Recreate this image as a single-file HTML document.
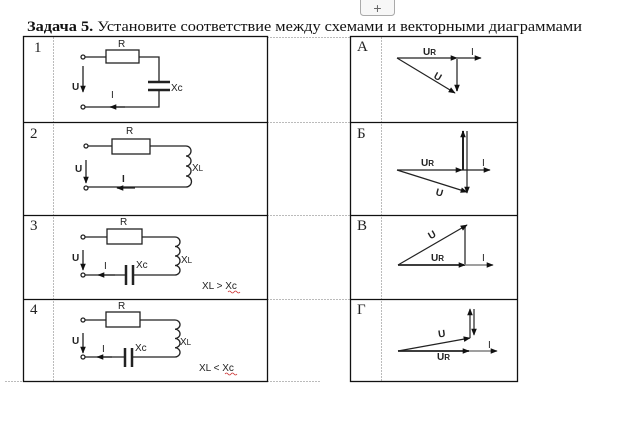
<!DOCTYPE html>
<html><head><meta charset="utf-8"><style>
html,body{margin:0;padding:0;background:#fff;width:631px;height:422px;overflow:hidden}
svg{display:block}
.s{font-family:"Liberation Sans",sans-serif;font-size:10px;fill:#222}
.n{font-family:"Liberation Serif",serif;font-size:15px;fill:#222}
</style></head><body>
<svg width="631" height="422" viewBox="0 0 631 422" xmlns="http://www.w3.org/2000/svg">
<defs>
<marker id="a" viewBox="0 0 10 10" refX="9" refY="5" markerWidth="8" markerHeight="7" markerUnits="userSpaceOnUse" orient="auto"><path d="M0,1 L10,5 L0,9 z" fill="#111"/></marker>
</defs>
<rect x="360.5" y="-3.5" width="34" height="19" rx="3" fill="#f7f7f7" stroke="#aaa"/>
<text x="377.5" y="13" text-anchor="middle" font-family="Liberation Sans" font-size="14" fill="#666">+</text>
<text x="27" y="31" font-family="Liberation Serif,serif" font-size="15" fill="#111" textLength="555" lengthAdjust="spacingAndGlyphs"><tspan font-weight="bold">Задача 5.</tspan> Установите соответствие между  схемами и векторными диаграммами</text>
<g stroke="#bbb" stroke-dasharray="2,1" stroke-width="1">
<line x1="267" y1="37.5" x2="350" y2="37.5"/>
<line x1="267" y1="122.5" x2="350" y2="122.5"/>
<line x1="267" y1="215.5" x2="350" y2="215.5"/>
<line x1="267" y1="299.5" x2="350" y2="299.5"/>
<line x1="267" y1="381.5" x2="320" y2="381.5"/>
<line x1="5" y1="381.5" x2="23" y2="381.5"/>
<line x1="53.5" y1="37" x2="53.5" y2="381"/>
<line x1="381.5" y1="37" x2="381.5" y2="381"/>
</g>
<g fill="none" stroke="#111" stroke-width="1.3">
<rect x="23.5" y="36.5" width="244" height="345"/>
<line x1="23" y1="122.5" x2="267" y2="122.5"/>
<line x1="23" y1="215.5" x2="267" y2="215.5"/>
<line x1="23" y1="299.5" x2="267" y2="299.5"/>
<rect x="350.5" y="36.5" width="167" height="345"/>
<line x1="350" y1="122.5" x2="517" y2="122.5"/>
<line x1="350" y1="215.5" x2="517" y2="215.5"/>
<line x1="350" y1="299.5" x2="517" y2="299.5"/>
</g>
<text class="n" x="34" y="52">1</text><text class="n" x="30" y="138">2</text><text class="n" x="30" y="230">3</text><text class="n" x="30" y="314">4</text>
<text class="n" x="357" y="51">А</text><text class="n" x="357" y="138">Б</text><text class="n" x="357" y="230">В</text><text class="n" x="357" y="314">Г</text>

<g fill="none" stroke="#222" stroke-width="1.3">
<path d="M85,57 H106 M139,57 H159 V82 M159,90 V107 H85"/>
<rect x="106" y="50" width="33" height="13"/>
<line x1="148" y1="82" x2="170" y2="82" stroke-width="2.5"/><line x1="148" y1="90" x2="170" y2="90" stroke-width="2.5"/>
<circle cx="83" cy="57" r="2"/><circle cx="83" cy="107" r="2"/>
<line x1="83" y1="66" x2="83" y2="92" marker-end="url(#a)"/>
<line x1="125" y1="107" x2="110" y2="107" marker-end="url(#a)"/>
<path d="M88,146 H112 M150,146 H186 M186,187 H88"/>
<rect x="112" y="139" width="38" height="15"/>
<path d="M186,146 a5,5 0 0 1 0,10 a5,5 0 0 1 0,10 a5,5 0 0 1 0,10 a5.5,5.5 0 0 1 0,11"/>
<circle cx="86" cy="146" r="2"/><circle cx="86" cy="188" r="2"/>
<line x1="86" y1="160" x2="86" y2="183" marker-end="url(#a)"/>
<line x1="135" y1="188" x2="117" y2="188" marker-end="url(#a)"/>
<path d="M85,237 H107 M142,237 H175 M175,275 H133 M126,275 H85"/>
<rect x="107" y="229" width="35" height="15"/>
<path d="M175,237 a5,4.75 0 0 1 0,9.5 a5,4.75 0 0 1 0,9.5 a5,4.75 0 0 1 0,9.5 a5,4.75 0 0 1 0,9.5"/>
<line x1="126" y1="265" x2="126" y2="285" stroke-width="2.5"/><line x1="133" y1="265" x2="133" y2="285" stroke-width="2.5"/>
<circle cx="83" cy="237" r="2"/><circle cx="83" cy="275" r="2"/>
<line x1="83" y1="250" x2="83" y2="270" marker-end="url(#a)"/>
<line x1="115" y1="275" x2="98" y2="275" marker-end="url(#a)"/>
<path d="M85,320 H106 M140,320 H175 M175,357 H132 M125,357 H85"/>
<rect x="106" y="312" width="34" height="15"/>
<path d="M175,320 a5,4.6 0 0 1 0,9.25 a5,4.6 0 0 1 0,9.25 a5,4.6 0 0 1 0,9.25 a5,4.6 0 0 1 0,9.25"/>
<line x1="125" y1="348" x2="125" y2="367" stroke-width="2.5"/><line x1="132" y1="348" x2="132" y2="367" stroke-width="2.5"/>
<circle cx="83" cy="320" r="2"/><circle cx="83" cy="357" r="2"/>
<line x1="83" y1="333" x2="83" y2="353" marker-end="url(#a)"/>
<line x1="112" y1="357" x2="97" y2="357" marker-end="url(#a)"/>
</g>
<text class="s" x="118" y="47">R</text><text class="s" x="171" y="91">Xc</text><text class="s" x="111" y="98">I</text><text class="s" x="72" y="90" font-weight="bold">U</text>
<text class="s" x="126" y="134" font-size="12">R</text><text class="s" x="192" y="171" font-size="11">X<tspan font-size="8">L</tspan></text><text class="s" x="122" y="182" font-size="12" font-weight="bold">I</text><text class="s" x="75" y="172" font-size="12" font-weight="bold">U</text>
<text class="s" x="120" y="225">R</text><text class="s" x="181" y="263">X<tspan font-size="8">L</tspan></text><text class="s" x="104" y="269">I</text><text class="s" x="136" y="268">Xc</text><text class="s" x="72" y="261" font-weight="bold">U</text>
<text class="s" x="202" y="289">XL &gt; Xc</text>
<text class="s" x="118" y="309">R</text><text class="s" x="180" y="345">X<tspan font-size="8">L</tspan></text><text class="s" x="102" y="352">I</text><text class="s" x="135" y="351">Xc</text><text class="s" x="72" y="344" font-weight="bold">U</text>
<text class="s" x="199" y="371">XL &lt; Xc</text>
<path d="M228,292 q1.5,-2 3,0 t3,0 t3,0 t3,0 M225,374 q1.5,-2 3,0 t3,0 t3,0 t3,0" stroke="#c33" fill="none" stroke-width="0.8"/>

<g stroke="#222" stroke-width="1.2" fill="none">
<line x1="397" y1="58" x2="457" y2="58" marker-end="url(#a)"/>
<line x1="457" y1="58" x2="481" y2="58" marker-end="url(#a)"/>
<line x1="457" y1="58" x2="457" y2="91" stroke="#777" stroke-width="2" marker-end="url(#a)"/>
<line x1="397" y1="58" x2="455" y2="93" marker-end="url(#a)"/>
<line x1="397" y1="170" x2="462" y2="170" marker-end="url(#a)"/>
<line x1="462" y1="170" x2="490" y2="170" marker-end="url(#a)"/>
<line x1="463" y1="170" x2="463" y2="131" stroke-width="2" marker-end="url(#a)"/>
<line x1="467" y1="131" x2="467" y2="193" marker-end="url(#a)"/>
<line x1="397" y1="170" x2="467" y2="192" marker-end="url(#a)"/>
<line x1="398" y1="265" x2="465" y2="265" stroke-width="1.8" marker-end="url(#a)"/>
<line x1="465" y1="265" x2="493" y2="265" stroke="#666" marker-end="url(#a)"/>
<line x1="465" y1="265" x2="465" y2="227" stroke="#777" stroke-width="2"/>
<line x1="398" y1="265" x2="467" y2="225" marker-end="url(#a)"/>
<line x1="398" y1="351" x2="469" y2="351" stroke-width="1.8" marker-end="url(#a)"/>
<line x1="469" y1="351" x2="497" y2="351" stroke="#666" marker-end="url(#a)"/>
<line x1="398" y1="351" x2="470" y2="338" marker-end="url(#a)"/>
<line x1="470" y1="338" x2="470" y2="309" marker-end="url(#a)"/>
<line x1="474" y1="309" x2="474" y2="335" marker-end="url(#a)"/>
</g>
<text class="s" x="423" y="55" font-weight="bold">U<tspan font-size="8">R</tspan></text><text class="s" x="471" y="55">I</text>
<text class="s" x="434" y="80" transform="rotate(30 438 77)" font-weight="bold">U</text>
<text class="s" x="421" y="166" font-weight="bold">U<tspan font-size="8">R</tspan></text><text class="s" x="482" y="166">I</text>
<text class="s" x="436" y="196" transform="rotate(15 440 192)" font-weight="bold">U</text>
<text class="s" x="428" y="238" transform="rotate(-30 432 234)" font-weight="bold">U</text>
<text class="s" x="431" y="261" font-weight="bold">U<tspan font-size="8">R</tspan></text><text class="s" x="482" y="261">I</text>
<text class="s" x="438" y="337" transform="rotate(-8 442 333)" font-weight="bold">U</text>
<text class="s" x="437" y="360" font-weight="bold">U<tspan font-size="8">R</tspan></text><text class="s" x="488" y="348">I</text>
</svg>
</body></html>
